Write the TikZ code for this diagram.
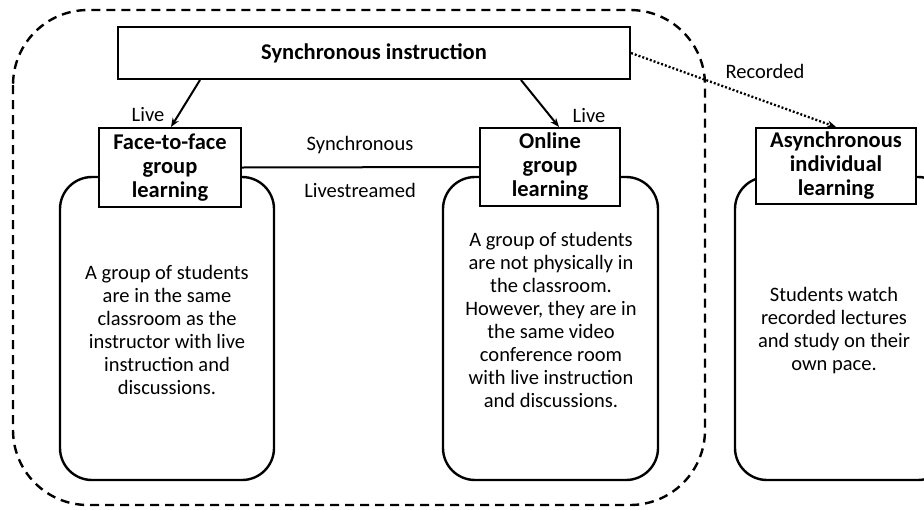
\documentclass[tikz,border=0pt]{standalone}
\usepackage{fontspec}
\setmainfont{Carlito}
\usetikzlibrary{arrows.meta}
\begin{document}
\begin{tikzpicture}[x=1pt,y=-1pt,
  body/.style={font=\fontsize{20.5}{23}\selectfont, align=center, inner sep=0pt},
  lbl/.style={font=\fontsize{20.5}{23}\selectfont, inner sep=0pt},
  head/.style={draw, line width=2pt, fill=white, font=\bfseries\fontsize{22.5}{24}\selectfont, align=center, inner sep=0pt},
  card/.style={draw, line width=2.4pt, rounded corners=32pt, inner sep=0pt},
  conn/.style={line width=2pt, -{Stealth[length=9pt,width=7pt]}},
  dotconn/.style={line width=2.3pt, dash pattern=on 2pt off 2pt, -{Stealth[length=9pt,width=7pt]}}]
\useasboundingbox (0,0) rectangle (924,509);
\clip (0,0) rectangle (924,509);
% outer dashed region
\draw[line width=2.4pt, dash pattern=on 9pt off 6pt, rounded corners=75pt] (13,10) rectangle (705,505);
% cards
\node[card, minimum width=214pt, minimum height=303pt] (c1) at (167,328.5) {};
\node[card, minimum width=215pt, minimum height=303pt] (c2) at (550.5,328.5) {};
\node[card, minimum width=215pt, minimum height=303pt] (c3) at (842.5,328.5) {};
% card texts
\node[body] (t1) at (167,330) {A group of students\\are in the same\\classroom as the\\instructor with live\\instruction and\\discussions.};
\node[body] (t2) at (551,320) {A group of students\\are not physically in\\the classroom.\\However, they are in\\the same video\\conference room\\with live instruction\\and discussions.};
\node[body] (t3) at (834,331) {Students watch\\recorded lectures\\and study on their\\own pace.};
% headers
\node[head, minimum width=512pt, minimum height=52pt] (sync) at (374,53) {Synchronous instruction};
\node[head, minimum width=142pt, minimum height=79pt] (face) at (170,167.5) {Face-to-face\\group\\learning};
\node[head, minimum width=140pt, minimum height=78pt] (online) at (550,167) {Online\\group\\learning};
\node[head, minimum width=160pt, minimum height=76pt] (async) at (836,166) {Asynchronous\\individual\\learning};
% connectors
\draw[conn] ([xshift=83pt]sync.south west) -- ([xshift=73pt]face.north west);
\draw[conn] ([xshift=404pt]sync.south west) -- ([xshift=80pt]online.north west);
\draw[dotconn] (sync.east) -- (async.north);
\draw[line width=2pt] (face.east) -- (online.west);
% labels
\node[lbl] (l1) at (148,115) {Live};
\node[lbl] (l2) at (589,116) {Live};
\node[lbl] (l3) at (360,145) {Synchronous};
\node[lbl] (l4) at (360,190) {Livestreamed};
\node[lbl] (l5) at (765,71) {Recorded};
\end{tikzpicture}
\end{document}
